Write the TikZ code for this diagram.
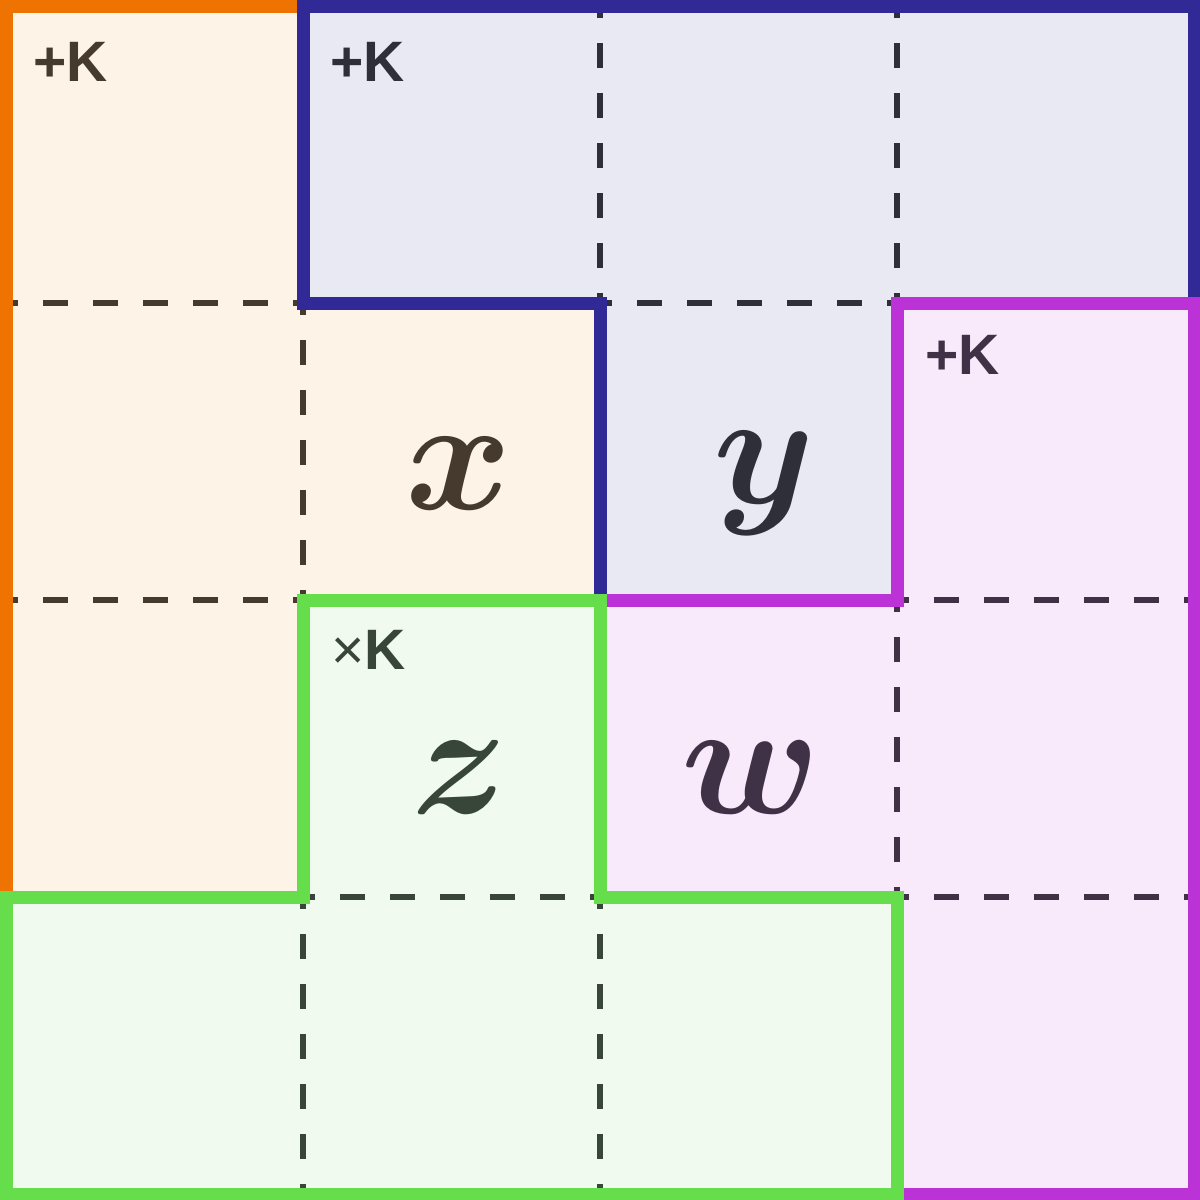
\documentclass[tikz,border=0pt]{standalone}
\usepackage{fix-cm}
\usepackage{amsmath}
\usepackage{bm}
\usepackage{fontspec}
\setsansfont{Liberation Sans}

\definecolor{orgfill}{HTML}{FEF3E7}
\definecolor{orgline}{HTML}{EE7300}
\definecolor{orgtext}{HTML}{463A2E}
\definecolor{blufill}{HTML}{E9E9F4}
\definecolor{bluline}{HTML}{312A96}
\definecolor{blutext}{HTML}{2F2F3A}
\definecolor{purfill}{HTML}{F8EAFA}
\definecolor{purline}{HTML}{BB33D6}
\definecolor{purtext}{HTML}{403246}
\definecolor{grnfill}{HTML}{F0FAEE}
\definecolor{grnline}{HTML}{66DD4B}
\definecolor{grntext}{HTML}{38463A}

\begin{document}
\begin{tikzpicture}[x=0.01cm, y=-0.01cm,
	region/.style={line width=0.13cm, line join=miter},
	cut/.style={line width=0.06cm, dash pattern=on 0.25cm off 0.25cm, dash phase=0.13cm},
	tag/.style={anchor=base west, inner sep=0pt, font=\sffamily\bfseries\fontsize{16.2}{20}\selectfont},
	var/.style={anchor=base, inner sep=0pt, font=\fontsize{46}{46}\selectfont}]
	\useasboundingbox (0,0) rectangle (1200,1200);

	\fill[orgfill] (0,0) -- (303,0) -- (303,303) -- (600,303) -- (600,600) -- (303,600) -- (303,897) -- (0,897) -- cycle;
	\draw[cut, orgtext] (6,303) -- (303,303);
	\draw[cut, orgtext] (6,600) -- (303,600);
	\draw[cut, orgtext] (303,303) -- (303,600);
	\draw[region, orgline] (6,6) -- (303,6) -- (303,303) -- (600,303) -- (600,600) -- (303,600) -- (303,897) -- (6,897) -- cycle;

	\fill[blufill] (303,0) -- (1200,0) -- (1200,303) -- (897,303) -- (897,600) -- (600,600) -- (600,303) -- (303,303) -- cycle;
	\draw[cut, blutext] (600,6) -- (600,303);
	\draw[cut, blutext] (897,6) -- (897,303);
	\draw[cut, blutext] (600,303) -- (897,303);
	\draw[region, bluline] (303,6) -- (1194,6) -- (1194,303) -- (897,303) -- (897,600) -- (600,600) -- (600,303) -- (303,303) -- cycle;

	\fill[purfill] (897,303) -- (1200,303) -- (1200,1200) -- (897,1200) -- (897,897) -- (600,897) -- (600,600) -- (897,600) -- cycle;
	\draw[cut, purtext] (897,600) -- (1194,600);
	\draw[cut, purtext] (897,897) -- (1194,897);
	\draw[cut, purtext] (897,600) -- (897,897);
	\draw[region, purline] (897,303) -- (1194,303) -- (1194,1194) -- (897,1194) -- (897,897) -- (600,897) -- (600,600) -- (897,600) -- cycle;

	\fill[grnfill] (303,600) -- (600,600) -- (600,897) -- (897,897) -- (897,1200) -- (0,1200) -- (0,897) -- (303,897) -- cycle;
	\draw[cut, grntext] (303,897) -- (600,897);
	\draw[cut, grntext] (303,897) -- (303,1194);
	\draw[cut, grntext] (600,897) -- (600,1194);
	\draw[region, grnline] (303,600) -- (600,600) -- (600,897) -- (897,897) -- (897,1194) -- (6,1194) -- (6,897) -- (303,897) -- cycle;

	\node[tag, text=orgtext] (korg) at (33,81) {+K};
	\node[tag, text=blutext] (kblu) at (330,81) {+K};
	\node[tag, text=purtext] (kpur) at (925,374) {+K};
	\node[tag, text=grntext] (kgrn) at (331,669) {{\mdseries×}K};

	\node[var, text=orgtext] (vx) at (459,509) {$\bm{x}$};
	\node[var, text=blutext] (vy) at (764,503) {$\bm{y}$};
	\node[var, text=grntext] (vz) at (460,813) {$\bm{z}$};
	\node[var, text=purtext] (vw) at (751,813) {$\bm{w}$};
\end{tikzpicture}
\end{document}
